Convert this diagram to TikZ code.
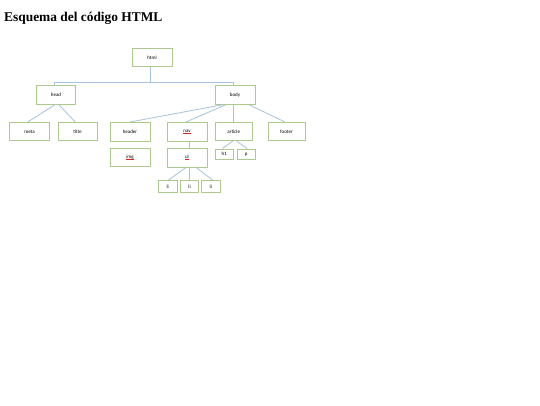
\documentclass[tikz,border=0pt]{standalone}
\usepackage{fontspec}
\setmainfont{Liberation Serif}
\newfontfamily\boxfont{Carlito}
\definecolor{boxgreen}{HTML}{ADC98D}
\definecolor{linkblue}{HTML}{A6C3DD}
\definecolor{spellred}{HTML}{E02020}
\newcommand\spellmark[1]{\setbox0\hbox{#1}\rlap{\textcolor{spellred}{\rule[-0.9pt]{\wd0}{0.4pt}}}#1}
\tikzset{
  box/.style={draw=boxgreen, line width=0.9pt, fill=white, inner sep=0pt,
    font=\boxfont\fontsize{5}{6}\selectfont, text=black},
  big/.style={box, minimum width=40pt, minimum height=18.5pt},
  small/.style={box, minimum width=18.5pt, minimum height=11pt},
  conn/.style={draw=linkblue, line width=0.8pt}
}
\begin{document}
\begin{tikzpicture}[x=1pt,y=-1pt]
\useasboundingbox[fill=white] (0,0) rectangle (540,405);
\node[anchor=base west, font=\fontsize{13.4}{16}\selectfont\bfseries, inner sep=0pt] (ttl) at (4,21) {Esquema del código HTML};

\node[big] (html) at (152,57.5) {html};
\node[big, minimum width=39pt] (head) at (56,95) {head};
\node[big] (body) at (235,95) {body};
\node[big] (meta) at (29.5,131.5) {meta};
\node[big, minimum width=39pt] (title) at (77.5,131.5) {title};
\node[big] (header) at (130,131.7) {header};
\node[big] (nav) at (187,131.7) {\spellmark{nav}};
\node[big, minimum width=37.5pt] (article) at (233.7,131.5) {article};
\node[big, minimum width=37pt] (footer) at (286.5,131.5) {footer};
\node[big] (img) at (130,157.5) {\spellmark{img}};
\node[big] (ul) at (187,157.7) {\spellmark{ul}};
\node[small, minimum width=18pt, minimum height=10.5pt] (h1) at (224.3,154.2) {h1};
\node[small, minimum width=18pt, minimum height=10.5pt] (p) at (246.3,154.2) {p};
\node[small, minimum height=12pt] (li1) at (167.7,186.7) {li};
\node[small, minimum height=12pt] (li2) at (189.5,186.7) {li};
\node[small, minimum height=12pt] (li3) at (210.8,186.7) {li};

\coordinate (bus) at (150,82);
\draw[conn] ([xshift=-2pt]html.south) -- (bus);
\draw[conn] ([xshift=-2pt]head.north) |- (bus);
\draw[conn] ([xshift=-2pt]body.north) |- (bus);

\draw[conn] ([xshift=-1pt]head.south) -- ([xshift=-1.5pt]meta.north);
\draw[conn] ([xshift=3pt]head.south) -- ([xshift=-2.5pt]title.north);

\draw[conn] ([xshift=-12pt]body.south) -- (header.north);
\draw[conn] ([xshift=-9pt]body.south) -- ([xshift=-1pt]nav.north);
\draw[conn] ([xshift=-2pt]body.south) -- ([xshift=-2pt]body.south |- article.north);
\draw[conn] ([xshift=14pt]body.south) -- ([xshift=-2pt]footer.north);

\draw[conn] ([xshift=2pt]nav.south) -- ([xshift=2pt]ul.north);
\draw[conn] ([xshift=-1pt]article.south) -- ([xshift=-2pt]h1.north);
\draw[conn] ([xshift=3pt]article.south) -- ([xshift=1pt]p.north);

\draw[conn] ([xshift=-1pt]ul.south) -- ([xshift=0.5pt]li1.north);
\draw[conn] ([xshift=2pt]ul.south) -- ([xshift=2pt]ul.south |- li2.north);
\draw[conn] ([xshift=9pt]ul.south) -- ([xshift=2pt]li3.north);
\end{tikzpicture}
\end{document}
